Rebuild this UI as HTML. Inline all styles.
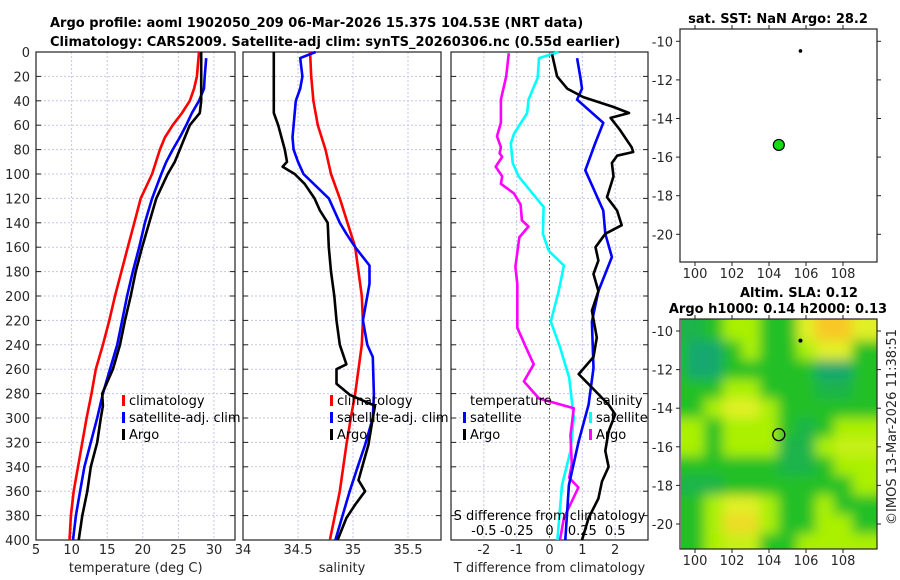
<!DOCTYPE html>
<html><head><meta charset="utf-8">
<style>
html,body{margin:0;padding:0;background:#fff;}
svg{display:block;font-family:"DejaVu Sans","Liberation Sans",sans-serif;}
.tl{font-size:13px;fill:#262626;}
.tt{font-size:13px;font-weight:bold;fill:#000;}
.lg{font-size:13px;fill:#000;}
</style></head>
<body>
<svg id="chart" width="900" height="580" viewBox="0 0 900 580" xmlns="http://www.w3.org/2000/svg">
<defs>
<filter id="blur" filterUnits="userSpaceOnUse" x="600" y="250" width="350" height="380"><feGaussianBlur stdDeviation="6"/></filter>
<clipPath id="mapclip"><rect x="681" y="319" width="196" height="230"/></clipPath>
</defs>
<text class="tt" x="50" y="27">Argo profile: aoml 1902050_209 06-Mar-2026 15.37S 104.53E (NRT data)</text>
<text class="tt" x="50" y="46">Climatology: CARS2009. Satellite-adj clim: synTS_20260306.nc (0.55d earlier)</text>
<g id="g"></g>
</svg>
<script>
// ---- temperature panel data ----
const tClimDepth=[0,20,30,40,50,60,70,80,100,120,140,160,180,200,220,240,260,280,300,320,340,360,380,400];
const tClim=[27.9,27.6,27.2,26.6,25.5,24.2,23.1,22.4,21.3,19.7,18.8,17.9,17.0,16.1,15.3,14.4,13.4,12.8,12.1,11.5,10.9,10.3,9.9,9.7];
const tSatDepth=[5,20,30,40,50,60,70,80,90,100,120,140,160,180,200,220,240,260,280,300,320,340,360,380,400];
const tSat=[28.9,28.7,28.6,27.9,26.9,26.1,25.2,24.2,23.3,22.6,21.3,20.3,19.5,18.6,17.8,17.1,16.4,15.4,14.4,13.6,12.7,11.8,11.2,10.6,10.2];
const tArgoDepth=[0,20,40,50,55,60,70,80,90,100,110,120,140,160,180,200,220,240,260,280,290,300,320,340,360,380,400];
const tArgo=[28.2,28.2,28.2,28.0,27.3,26.6,25.9,25.2,24.5,23.5,22.7,21.9,20.9,19.9,19.0,18.3,17.5,16.8,15.8,14.3,14.4,14.1,13.6,12.7,12.2,11.5,11.0];
// ---- salinity panel data ----
const sClimDepth=[0,20,40,50,60,80,100,120,140,160,180,200,220,240,260,280,300,322,360,400];
const sClim=[34.61,34.62,34.64,34.66,34.68,34.75,34.80,34.88,34.95,35.02,35.05,35.08,35.09,35.08,35.05,35.02,34.98,34.94,34.88,34.79];
const sSatDepth=[0,5,20,30,40,60,70,80,90,100,120,140,149,160,175,190,200,220,240,250,281,300,322,338,360,400];
const sSat=[34.66,34.52,34.54,34.52,34.48,34.46,34.45,34.46,34.50,34.55,34.78,34.88,34.94,35.02,35.15,35.15,35.13,35.09,35.13,35.18,35.19,35.18,35.11,35.05,34.97,34.84];
const sArgoDepth=[0,50,60,70,80,90,94,100,108,120,130,140,160,180,200,220,240,256,260,272,281,290,300,322,338,351,360,371,382,400];
const sArgo=[34.28,34.28,34.32,34.35,34.38,34.40,34.36,34.47,34.56,34.65,34.70,34.77,34.78,34.80,34.83,34.85,34.88,34.94,34.85,34.85,34.97,35.20,35.18,35.14,35.09,35.05,35.11,35.02,34.94,34.86];
// ---- difference panel data ----
const dTSatDepth=[5,21,30,39,58,75,97,130,149,168,196,221,259,289,319,355,400];
const dTSat=[0.84,0.94,0.99,0.84,1.64,1.39,1.09,1.64,1.70,1.90,1.49,1.29,1.34,1.19,0.89,0.59,0.48];
const dTArgoDepth=[2,20,30,37,45,50,54,64,78,82,85,91,102,119,130,142,149,160,171,182,196,212,234,250,264,275,289,297,311,327,340,352,366,382,400];
const dTArgo=[0.08,0.23,0.54,1.03,1.94,2.42,1.86,2.15,2.5,2.55,2.06,1.9,1.95,1.75,2.06,2.2,1.7,1.4,1.49,1.34,1.49,1.29,1.44,1.34,0.89,1.29,1.80,2.0,1.80,1.70,1.80,1.60,1.49,1.19,0.99];
const dSSatDepth=[0,5,21,39,50,67,75,91,102,127,149,163,175,196,221,242,267,300,327,355,400];
const dSSat=[0.07,-0.08,-0.09,-0.16,-0.17,-0.27,-0.295,-0.28,-0.235,-0.045,-0.05,-0.005,0.11,0.07,0.01,0.08,0.15,0.185,0.16,0.095,0.06];
const dSArgoDepth=[1,20,39,58,69,78,83,86,94,102,108,116,125,138,143,152,176,190,226,242,256,270,284,292,314,338,349,357,382,400];
const dSArgo=[-0.31,-0.33,-0.37,-0.37,-0.40,-0.37,-0.38,-0.36,-0.41,-0.36,-0.37,-0.27,-0.22,-0.21,-0.16,-0.23,-0.26,-0.245,-0.245,-0.18,-0.12,-0.195,-0.08,0.185,0.16,0.17,0.15,0.22,0.11,0.08];
// ---- tick labels ----
const depthTicks=[0,20,40,60,80,100,120,140,160,180,200,220,240,260,280,300,320,340,360,380,400];
const tTicks=[5,10,15,20,25,30];
const sTicks=[34,34.5,35,35.5];
const dTTicks=[-2,-1,0,1,2];
const dSTickLabels=["-0.5","-0.25","0","0.25","0.5"];
const dSTicks=[-0.5,-0.25,0,0.25,0.5];
const latTicks=[-10,-12,-14,-16,-18,-20];
const lonTicks=[100,102,104,106,108];
// ---- map data ----
const argoLon=104.53, argoLat=-15.37;
const otherLon=105.7, otherLat=-10.5;
const slaLons=[99,100,101,102,103,104,105,106,107,108,109,110];
const slaLats=[-10,-11,-12,-13,-14,-15,-16,-17,-18,-19,-20,-21];
const slaGrid=[
[0.5,0.5,1,2,2,1,1,3,4,4,3,3],
[1,0,0,1,2,1,1,2,3,3,1,1],
[1,0,0,1,1,1,1,1,0,0,1,1],
[1,1,1,2,2,1,1,1,0.5,0.5,1,1],
[1,1,2,3,3,2,1,1,1,1,1,1],
[2,2,1,2,2,2,1,0.5,1,2,2,2],
[2,2,1,2,2,2,0.5,0.5,2,2.5,2.5,2.5],
[1,1,1,1,1,1,0.5,0.5,1,2,2,2],
[0.5,0.5,0.5,1,1,1,1,1,1,1,2,2],
[1,1,2,3,3,2,1,1,2,1,1,1],
[1,1,2,3.5,3.5,2,1,1,2,2,1,1],
[1,1,2,2.5,2.5,1,1,2,2,2,2,2]];

const NS="http://www.w3.org/2000/svg";
const G=document.getElementById('g');
function el(tag,attrs,parent){const e=document.createElementNS(NS,tag);for(const k in attrs)e.setAttribute(k,attrs[k]);(parent||G).appendChild(e);return e;}
function txt(s,x,y,cls,anchor,parent){const t=el('text',{x:x,y:y,class:cls,'text-anchor':anchor||'start'},parent);t.textContent=s;return t;}

const TOP=52,BOT=540;
const yD=d=>TOP+(d/400)*(BOT-TOP);
const P1={x0:36,x1:235,min:5,max:32.95};
const P2={x0:243,x1:441,min:34,max:35.8};
const P3={x0:451,x1:648,min:-3,max:3};
const sx=(P,v)=>P.x0+(v-P.min)/(P.max-P.min)*(P.x1-P.x0);
const sxS=v=>sx(P3,v*4);

function frame(P,name,vgrid){
  const g=el('g',{});
  
  
  depthTicks.forEach(d=>{ if(d>0&&d<400) el('line',{x1:P.x0,x2:P.x1,y1:yD(d),y2:yD(d),stroke:'#c3c7e6','stroke-width':1,'stroke-dasharray':'2,2'},g);});
  vgrid.forEach(v=>{const x=sx(P,v); if(x>P.x0+1&&x<P.x1-1) el('line',{x1:x,x2:x,y1:TOP,y2:BOT,stroke:'#c3c7e6','stroke-width':1,'stroke-dasharray':'2,2'},g);});
  depthTicks.forEach(d=>{el('line',{x1:P.x0,x2:P.x0+5,y1:yD(d),y2:yD(d),stroke:'#222'},g);el('line',{x1:P.x1-5,x2:P.x1,y1:yD(d),y2:yD(d),stroke:'#222'},g);});
  el('rect',{x:P.x0,y:TOP,width:P.x1-P.x0,height:BOT-TOP,fill:'none',stroke:'#222','stroke-width':1.2},g);
  return g;
}
function line(P,depths,vals,color,name,conv){
  const pts=depths.map((d,i)=>((conv?conv(vals[i]):sx(P,vals[i])).toFixed(1)+','+yD(d).toFixed(1))).join(' ');
  const p=el('polyline',{points:pts,fill:'none',stroke:color,'stroke-width':2.6,'stroke-linejoin':'round'});
  
  
}
function legend(x,y,color,label,name){
  const g=el('g',{});
  
  
  if(color) el('rect',{x:x,y:y-10,width:3,height:11,fill:color},g);
  txt(label,x+7,y,'lg','start',g);
}

// Panel 1
frame(P1,'temperature-panel',tTicks);
depthTicks.forEach(d=>{const t=txt(String(d),30,yD(d)+5,'tl','end');});
tTicks.forEach(v=>{const t=txt(String(v),sx(P1,v),554,'tl','middle');});
{const t=txt('temperature (deg C)',sx(P1,19),572,'tl','middle');}
line(P1,tClimDepth,tClim,'#ff0000','temperature-climatology-line');
line(P1,tSatDepth,tSat,'#0000ff','temperature-satellite-line');
line(P1,tArgoDepth,tArgo,'#000000','temperature-argo-line');
legend(122,405,'#ff0000','climatology','legend-climatology');
legend(122,422,'#0000ff','satellite-adj. clim','legend-satellite');
legend(122,439,'#000000','Argo','legend-argo');

// Panel 2
frame(P2,'salinity-panel',sTicks);
sTicks.forEach(v=>{const t=txt(String(v),sx(P2,v),554,'tl','middle');});
{const t=txt('salinity',sx(P2,34.9),572,'tl','middle');}
line(P2,sClimDepth,sClim,'#ff0000','salinity-climatology-line');
line(P2,sSatDepth,sSat,'#0000ff','salinity-satellite-line');
line(P2,sArgoDepth,sArgo,'#000000','salinity-argo-line');
legend(330,405,'#ff0000','climatology','legend-climatology-2');
legend(330,422,'#0000ff','satellite-adj. clim','legend-satellite-2');
legend(330,439,'#000000','Argo','legend-argo-2');

// Panel 3
frame(P3,'difference-panel',dTTicks);
el('line',{x1:sx(P3,0),x2:sx(P3,0),y1:TOP,y2:BOT,stroke:'#5a5030','stroke-width':1,'stroke-dasharray':'1.5,2.5'});
dTTicks.forEach(v=>{const t=txt(String(v),sx(P3,v),554,'tl','middle');});
{const t=txt('T difference from climatology',sx(P3,0),572,'tl','middle');}
line(P3,dSSatDepth,dSSat,'#00ffff','s-diff-satellite-line',sxS);
line(P3,dSArgoDepth,dSArgo,'#ff00ff','s-diff-argo-line',sxS);
line(P3,dTSatDepth,dTSat,'#0000ff','t-diff-satellite-line');
line(P3,dTArgoDepth,dTArgo,'#000000','t-diff-argo-line');
{const t=txt('S difference from climatology',sx(P3,0),520,'lg','middle');}
dSTicks.forEach((v,i)=>{const t=txt(dSTickLabels[i],sxS(v),535,'lg','middle');});
legend(463,405,null,'temperature','legend-temperature-header');
legend(463,422,'#0000ff','satellite','legend-t-satellite');
legend(463,439,'#000000','Argo','legend-t-argo');
legend(589,405,null,'salinity','legend-salinity-header');
legend(589,422,'#00ffff','satellite','legend-s-satellite');
legend(589,439,'#ff00ff','Argo','legend-s-argo');

// Maps
const mx=lon=>695+(lon-100)*18.5;
const my1=lat=>41.3+(-10-lat)*19.3;
const my2=lat=>331+(-10-lat)*19.3;
function mapAxes(y0,y1,myf,name){
  const g=el('g',{});
  
  
  el('rect',{x:680,y:y0,width:197,height:y1-y0,fill:'none',stroke:'#222','stroke-width':1.2},g);
  latTicks.forEach(v=>{const y=myf(v);el('line',{x1:680,x2:676,y1:y,y2:y,stroke:'#222'},g);el('line',{x1:877,x2:881,y1:y,y2:y,stroke:'#222'},g);txt(String(v),673,y+5,'tl','end',g);});
  lonTicks.forEach(v=>{const x=mx(v);el('line',{x1:x,x2:x,y1:y1,y2:y1+4,stroke:'#222'},g);el('line',{x1:x,x2:x,y1:y0,y2:y0-4,stroke:'#222'},g);txt(String(v),x,y1+16,'tl','middle',g);});
}
// top map
{const t=txt('sat. SST: NaN Argo: 28.2',778,23,'tt','middle');}
mapAxes(29,262,my1,'sst-map');
{const c=el('circle',{cx:mx(argoLon),cy:my1(argoLat),r:5.5,fill:'#11dd11',stroke:'#000','stroke-width':1.2});}
{const c=el('circle',{cx:mx(otherLon),cy:my1(otherLat),r:1.8,fill:'#000'});}

// bottom map
{const t=txt('Altim. SLA: 0.12',740,297,'tt','start');
 const t2=txt('Argo h1000: 0.14 h2000: 0.13',778,313,'tt','middle');}
const stops=[[24,168,112],[34,192,40],[170,240,0],[225,240,40],[248,200,40]];
function col(v){const i=Math.max(0,Math.min(3,Math.floor(v)));const f=Math.max(0,Math.min(1,v-i));const a=stops[i],b=stops[i+1];return 'rgb('+a.map((c,k)=>Math.round(c+(b[k]-c)*f)).join(',')+')';}
const clipG=el('g',{'clip-path':'url(#mapclip)'});


el('rect',{x:681,y:319,width:196,height:230,fill:col(1)},clipG);
const blurG=el('g',{filter:'url(#blur)'},clipG);
slaLats.forEach((lat,r)=>{slaLons.forEach((lon,c)=>{
  const top=my2(lat+0.5)-(r===0?30:0), bot=my2(lat-0.5)+(r===slaLats.length-1?30:0);
  const left=mx(lon-0.5)-(c===0?30:0), right=mx(lon+0.5)+(c===slaLons.length-1?30:0);
  const cell=el('rect',{x:left,y:top,width:right-left+0.5,height:bot-top+0.5,fill:col(slaGrid[r][c])},blurG);
  
  
});});
mapAxes(319,549,my2,'sla-map');
{const c=el('circle',{cx:mx(argoLon),cy:my2(argoLat),r:6,fill:'none',stroke:'#000','stroke-width':1.3});}
{const c=el('circle',{cx:mx(otherLon),cy:my2(otherLat),r:2,fill:'#000'});}
{const t=txt('©IMOS 13-Mar-2026 11:38:51',0,0,'tl','middle');t.setAttribute('transform','translate(896,427) rotate(-90)');}
</script>
</body></html>
